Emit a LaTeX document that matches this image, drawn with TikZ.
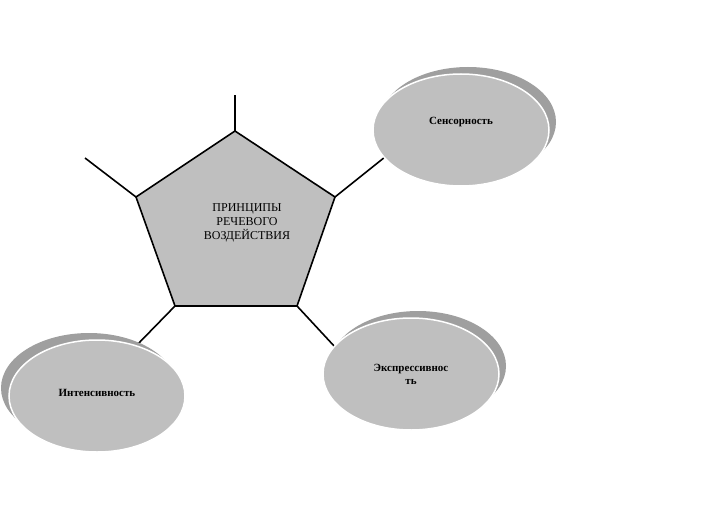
\documentclass[tikz,border=0pt]{standalone}
\usepackage{fontspec}
\setmainfont{Liberation Serif}
\tikzset{
 shad/.style={ellipse, fill=gray!75, minimum width=176pt, minimum height=110pt, inner sep=0pt},
 oval/.style={ellipse, fill=gray!50, draw=white, line width=1.5pt, minimum width=176pt, minimum height=112pt, inner sep=0pt, font=\fontsize{11}{13}\selectfont\bfseries, align=center},
 spoke/.style={line width=1.6pt}
}
\usetikzlibrary{shapes.geometric}
\begin{document}
\begin{tikzpicture}[x=1pt,y=-1pt]
\useasboundingbox (0,0) rectangle (722,513);
\coordinate (p1) at (235,131);
\coordinate (p2) at (335,197);
\coordinate (p3) at (297,306);
\coordinate (p4) at (175,306);
\coordinate (p5) at (136,197);
\filldraw[fill=gray!50, line width=1.6pt] (p1)--(p2)--(p3)--(p4)--(p5)--cycle;
\node[font=\fontsize{12}{14}\selectfont, align=center] (t) at (247,223) {ПРИНЦИПЫ\\РЕЧЕВОГО\hspace{2.2em}\\ВОЗДЕЙСТВИЯ};
\coordinate (e1) at (235,95);
\coordinate (e5) at (85,158);
\coordinate (e2) at (385,157);
\coordinate (e3) at (335,347);
\coordinate (e4) at (135,347);
\draw[spoke] (p1)--(e1); \draw[spoke] (p5)--(e5); \draw[spoke] (p2)--(e2);
\draw[spoke] (p3)--(e3); \draw[spoke] (p4)--(e4);
\node[shad] (s1) at (468,122) {};
\node[oval] (a) at (461,130) {\raisebox{18pt}{Сенсорность}};
\node[shad] (s2) at (418,366) {};
\node[oval] (b) at (411,374) {Экспрессивнос\\ть};
\node[shad] (s3) at (89,388) {};
\node[oval] (c) at (97,396) {\raisebox{6pt}{Интенсивность}};
\end{tikzpicture}
\end{document}
